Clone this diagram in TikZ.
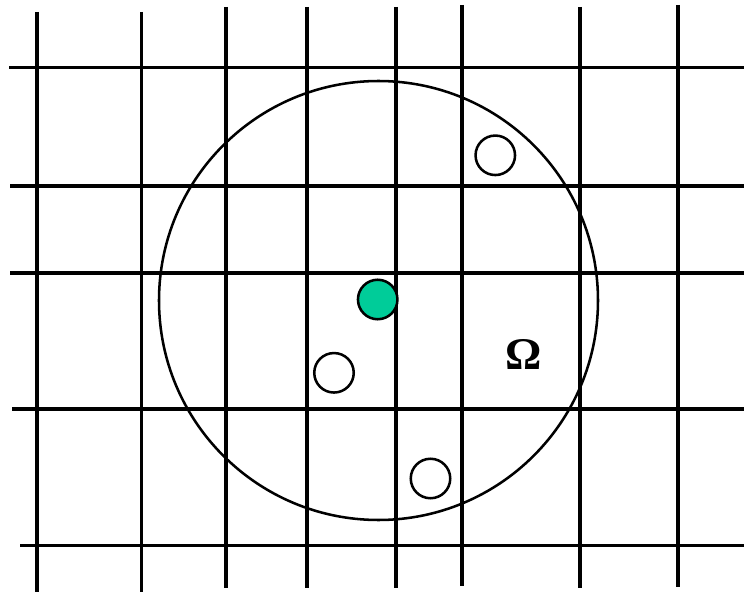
\documentclass[tikz,border=0pt]{standalone}
\usepackage{fontspec}
\newfontfamily\omegafont{Liberation Serif}
\definecolor{dotgreen}{HTML}{00CC99}
\begin{document}
\begin{tikzpicture}[x=0.75pt,y=-0.75pt,
  gridline/.style={line width=2.4pt},
  ringline/.style={line width=1.9pt},
  pt/.style={circle,draw,line width=1.9pt,minimum size=39.5*0.75pt,inner sep=0pt}]
\useasboundingbox (0,0) rectangle (744,592);
% vertical lines
\draw[gridline] (37,12) -- (37,592);
\draw[gridline] (141.5,12) -- (141.5,592);
\draw[gridline] (226,7) -- (226,588);
\draw[gridline] (307,7) -- (307,588);
\draw[gridline] (396,7) -- (396,588);
\draw[gridline] (462,5) -- (462,586);
\draw[gridline] (580,7) -- (580,588);
\draw[gridline] (678,5) -- (678,587);
% horizontal lines
\draw[gridline] (9,67.5) -- (744,67.5);
\draw[gridline] (10,186) -- (744,186);
\draw[gridline] (10,273) -- (744,273);
\draw[gridline] (12,409) -- (744,409);
\draw[gridline] (20,545.5) -- (744,545.5);
% big circle
\node (omegaring) [circle,draw,ringline,minimum size=439*0.75pt,inner sep=0pt] at (378.5,300.5) {};
% small circles
\node (c1) [pt,fill=white] at (495.3,155.3) {};
\node (c2) [pt,fill=white] at (334,372.8) {};
\node (c3) [pt,fill=white] at (430.5,478.5) {};
\node (center) [pt,fill=dotgreen] at (377.7,299.5) {};
\node (omega) at (523.5,354.5) {\omegafont\bfseries\fontsize{34}{34}\selectfont Ω};
\end{tikzpicture}
\end{document}
